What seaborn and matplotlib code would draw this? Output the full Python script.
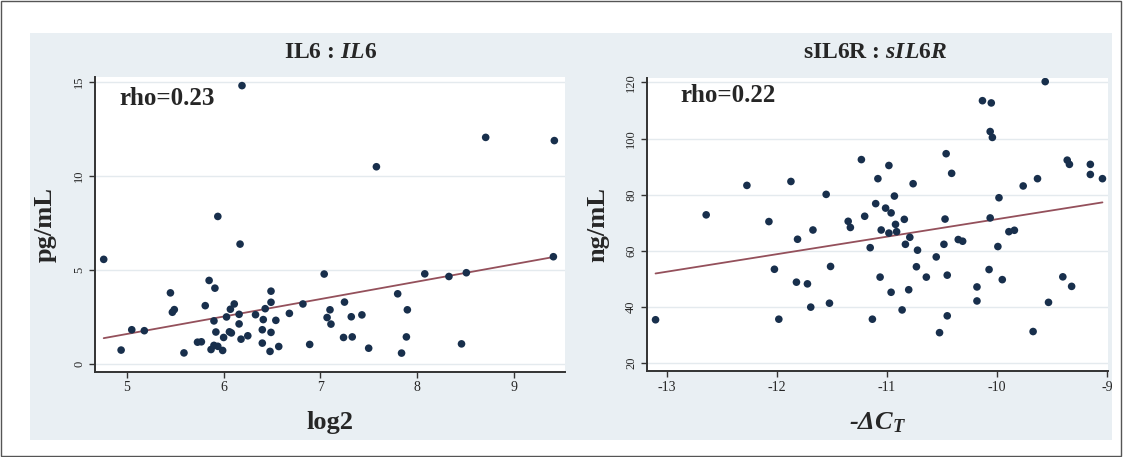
import numpy as np
import pandas as pd
import matplotlib.pyplot as plt
import seaborn as sns
from matplotlib.patches import Rectangle

# IL6 panel: log2 expression vs serum IL6 (pg/mL)
il6_log2 = [4.76, 4.94, 5.05, 5.18, 5.45, 5.49, 5.47, 5.59, 5.73, 5.77,
            5.81, 5.85, 5.91, 5.90, 5.92, 5.87, 5.90, 5.94, 5.99, 6.00,
            6.03, 6.06, 6.08, 6.07, 6.11, 6.16, 6.16, 6.18, 6.25, 6.33,
            6.41, 6.40, 6.40, 6.43, 6.49, 6.49, 6.49, 6.48, 6.54, 6.57,
            6.68, 6.82, 6.89, 5.94, 6.17, 6.19, 7.04, 7.10, 7.07, 7.11,
            7.25, 7.32, 7.43, 7.24, 7.33, 7.50, 7.80, 7.90, 7.89, 7.84,
            8.08, 8.33, 8.51, 8.46, 9.41, 8.71, 9.42, 7.58]
il6_pgml = [5.57, 0.75, 1.83, 1.78, 3.79, 2.90, 2.76, 0.60, 1.17, 1.19,
            3.11, 4.45, 4.04, 2.30, 1.71, 0.78, 1.00, 0.95, 0.73, 1.42,
            2.51, 1.72, 1.66, 2.92, 3.20, 2.65, 2.14, 1.33, 1.51, 2.63,
            2.37, 1.83, 1.12, 2.95, 3.29, 3.88, 1.69, 0.68, 2.33, 0.94,
            2.70, 3.20, 1.05, 7.85, 6.38, 14.80, 4.79, 2.89, 2.48, 2.13,
            3.30, 2.52, 2.62, 1.42, 1.45, 0.85, 3.74, 2.89, 1.45, 0.59,
            4.80, 4.66, 4.86, 1.08, 5.71, 12.05, 11.88, 10.49]

# sIL6R panel: -dCT vs serum sIL6R (ng/mL)
sil6r_dct = [-13.10, -12.64, -12.27, -12.07, -12.02, -11.98, -11.87, -11.81, -11.82, -11.72,
             -11.67, -11.69, -11.55, -11.51, -11.52, -11.35, -11.33, -11.23, -11.20, -11.15,
             -11.13, -11.10, -11.08, -11.06, -11.05, -11.01, -10.98, -10.98, -10.96, -10.96,
             -10.93, -10.92, -10.91, -10.86, -10.84, -10.83, -10.80, -10.79, -10.76, -10.73,
             -10.72, -10.64, -10.55, -10.52, -10.48, -10.47, -10.46, -10.45, -10.45, -10.41,
             -10.35, -10.31, -10.18, -10.18, -10.13, -10.05, -10.06, -10.04, -10.06, -10.07,
             -9.99, -9.98, -9.95, -9.89, -9.84, -9.76, -9.67, -9.63, -9.56, -9.53,
             -9.40, -9.36, -9.34, -9.32, -9.15, -9.15, -9.04]
sil6r_ngml = [35.4, 72.8, 83.3, 70.4, 53.4, 35.6, 84.7, 64.1, 48.8, 48.2,
              67.4, 39.9, 80.1, 54.4, 41.3, 70.5, 68.3, 92.5, 72.3, 61.1,
              35.6, 76.8, 85.7, 50.6, 67.4, 75.2, 90.4, 66.3, 73.5, 45.2,
              79.5, 69.4, 66.8, 38.9, 71.2, 62.3, 46.1, 64.8, 83.9, 54.3,
              60.2, 50.6, 57.8, 30.8, 62.3, 71.3, 94.6, 51.3, 36.8, 87.6,
              64.0, 63.4, 47.1, 42.1, 113.5, 112.7, 102.5, 100.4, 71.7, 53.3,
              61.5, 78.9, 49.7, 66.8, 67.3, 83.1, 31.2, 85.7, 120.3, 41.6,
              50.7, 92.3, 90.8, 47.3, 90.8, 87.2, 85.7]

il6_xticks = [5, 6, 7, 8, 9]
il6_yticks = [0, 5, 10, 15]
sil6r_xticks = [-13, -12, -11, -10, -9]
sil6r_yticks = [20, 40, 60, 80, 100, 120]

df_il6 = pd.DataFrame({'x': il6_log2, 'y': il6_pgml})
df_sil6r = pd.DataFrame({'x': sil6r_dct, 'y': sil6r_ngml})

sns.set_theme(style='white')
plt.rcParams['font.family'] = ['Liberation Serif', 'DejaVu Serif']
plt.rcParams['axes.unicode_minus'] = False
plt.rcParams['mathtext.fontset'] = 'custom'
plt.rcParams['mathtext.it'] = 'Liberation Serif:italic:bold'
plt.rcParams['mathtext.rm'] = 'Liberation Serif:bold'
plt.rcParams['mathtext.bf'] = 'Liberation Serif:bold'

BG = '#e9eff3'
DOT = '#182f4c'
FIT = '#94505b'

fig = plt.figure(figsize=(11.23, 4.57), dpi=100)
fig.patch.set_facecolor('white')
# Stata-like graph region and outer frame
fig.patches.append(Rectangle((0.0267, 0.0372), 0.9635, 0.8906, transform=fig.transFigure,
                             facecolor=BG, edgecolor='none', zorder=-10))
fig.patches.append(Rectangle((0.001, 0.002), 0.997, 0.996, transform=fig.transFigure,
                             fill=False, edgecolor='#555555', lw=1, zorder=10))

ax1 = fig.add_axes([0.0846, 0.187, 0.4185, 0.645])
ax2 = fig.add_axes([0.5759, 0.188, 0.4107, 0.642])

panels = [
    (ax1, df_il6, (4.67, 9.53), (-0.39, 15.27), il6_xticks, il6_yticks,
     'pg/mL', 'log2', 'normal', 'rho=0.23', (0.051, 0.904)),
    (ax2, df_sil6r, (-13.18, -8.99), (17.1, 121.7), sil6r_xticks, sil6r_yticks,
     'ng/mL', '-ΔC$_T$', 'italic', 'rho=0.22', (0.072, 0.917)),
]

for ax, df, xlim, ylim, xt, yt, ylab, xlab, xstyle, rho, rho_pos in panels:
    ax.set_facecolor('white')
    sns.regplot(data=df, x='x', y='y', ax=ax, scatter=False, ci=None,
                line_kws={'color': FIT, 'lw': 1.3})
    sns.scatterplot(data=df, x='x', y='y', ax=ax, color=DOT, s=30,
                    edgecolor='none', zorder=3)
    ax.set_xlim(*xlim)
    ax.set_ylim(*ylim)
    ax.set_xticks(xt)
    ax.set_yticks(yt)
    ax.yaxis.grid(True, color='#e4eaee', lw=1)
    ax.set_axisbelow(True)
    for side in ['top', 'right']:
        ax.spines[side].set_visible(False)
    for side in ['left', 'bottom']:
        ax.spines[side].set_color('#333333')
        ax.spines[side].set_linewidth(1.4)
    ax.tick_params(direction='out', length=4, width=1, color='#333333',
                   labelsize=10, pad=3, left=True, bottom=True)
    ax.tick_params(axis='y', labelrotation=90, labelsize=9)
    for lab in ax.get_yticklabels():
        lab.set_va('center')
    ax.set_ylabel(ylab, fontsize=19, fontweight='bold', va='center')
    ax.yaxis.set_label_coords(-0.105, 0.5)
    ax.set_xlabel(xlab, fontsize=19, fontweight='bold', fontstyle=xstyle, labelpad=12)
    ax.text(rho_pos[0], rho_pos[1], rho, transform=ax.transAxes, fontsize=18,
            fontweight='bold', va='baseline', ha='left')

fig.text(0.2939, 1 - 52 / 457, r'IL6 : $\mathit{IL6}$', ha='center', va='center',
         fontsize=17, fontweight='bold')
fig.text(0.779, 1 - 52 / 457, r'sIL6R : $\mathit{sIL6R}$', ha='center', va='center',
         fontsize=17, fontweight='bold')

plt.savefig('out.png', dpi=100, facecolor=fig.get_facecolor())
plt.close()
